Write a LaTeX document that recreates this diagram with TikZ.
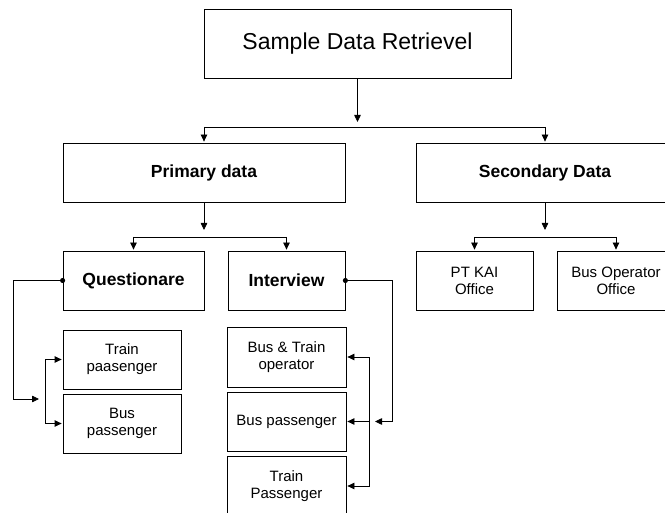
\documentclass[tikz,border=0pt]{standalone}
\usepackage{fontspec}
\setmainfont{Liberation Sans}
\usetikzlibrary{arrows.meta}

\begin{document}
\begin{tikzpicture}[x=1pt,y=-1pt,line width=0.8pt,
  box/.style={draw,inner sep=0pt,align=center,minimum height=59pt,font=\fontsize{15}{17}\selectfont},
  head/.style={box,font=\fontsize{17.5}{21}\selectfont\bfseries},
  link/.style={-{Triangle[length=7pt,width=6.5pt]},shorten >=1pt},
  dotlink/.style={{Circle[length=5pt]}-{Triangle[length=7pt,width=6.5pt]},shorten <=-2.5pt,shorten >=1pt}]
\useasboundingbox (0,0) rectangle (665,513);
\node[box,minimum width=307pt,minimum height=69pt,font=\fontsize{23}{27}\selectfont] (sdr) at (357.5,43.5) {Sample Data Retrievel};
\node[head,minimum width=282pt] (prim) at (204,172.5) {Primary data};
\node[head,minimum width=258pt] (sec) at (545,172.5) {Secondary Data};
\node[head,minimum width=141pt] (quest) at (133.5,280.5) {Questionare};
\node[head,minimum width=117pt] (intv) at (286.5,280.5) {Interview};
\node[box,minimum width=117pt] (kai) at (474.5,280.5) {PT KAI\\Office};
\node[box,minimum width=118pt] (busop) at (616,280.5) {Bus Operator\\Office};
\node[box,minimum width=118pt] (qtrain) at (122,359.5) {Train\\paasenger};
\node[box,minimum width=118pt] (qbus) at (122,423.5) {Bus\\passenger};
\node[box,minimum width=119pt,minimum height=60pt] (itrainop) at (286.5,357) {Bus \& Train\\operator};
\node[box,minimum width=119pt] (ibus) at (286.5,421.5) {Bus passenger};
\node[box,minimum width=119pt,minimum height=60pt] (itrain) at (286.5,486) {Train\\Passenger};

\coordinate (s0) at (357.5,123); \coordinate (s0l) at (204,127); \coordinate (s0r) at (545,127);
\draw[link] (sdr) -- (s0);
\draw (s0l) -- (s0r);
\draw[link] (s0l) -- (prim);
\draw[link] (s0r) -- (sec);

\coordinate (s1) at (204,231); \coordinate (s1l) at (133.5,237); \coordinate (s1r) at (286.5,237);
\draw[link] (prim) -- (s1);
\draw (s1l) -- (s1r);
\draw[link] (s1l) -- (quest);
\draw[link] (s1r) -- (intv);

\coordinate (s2) at (545,231); \coordinate (s2l) at (474.5,237); \coordinate (s2r) at (616,237);
\draw[link] (sec) -- (s2);
\draw (s2l) -- (s2r);
\draw[link] (s2l) -- (kai);
\draw[link] (s2r) -- (busop);

\coordinate (qa) at (13,399); \coordinate (qb) at (40,399); \coordinate (qj) at (45,399);
\draw[dotlink] (quest.west) -| (qa) -- (qb);
\draw[link] (qj) |- (qtrain.west);
\draw[link] (qj) |- (qbus.west);

\coordinate (ia) at (392,421.5); \coordinate (ib) at (374,421.5); \coordinate (ij) at (369,421.5);
\draw[dotlink] (intv.east) -| (ia) -- (ib);
\draw[link] (ij) |- (itrainop.east);
\draw[link] (ij) -- (ibus);
\draw[link] (ij) |- (itrain.east);
\end{tikzpicture}
\end{document}
